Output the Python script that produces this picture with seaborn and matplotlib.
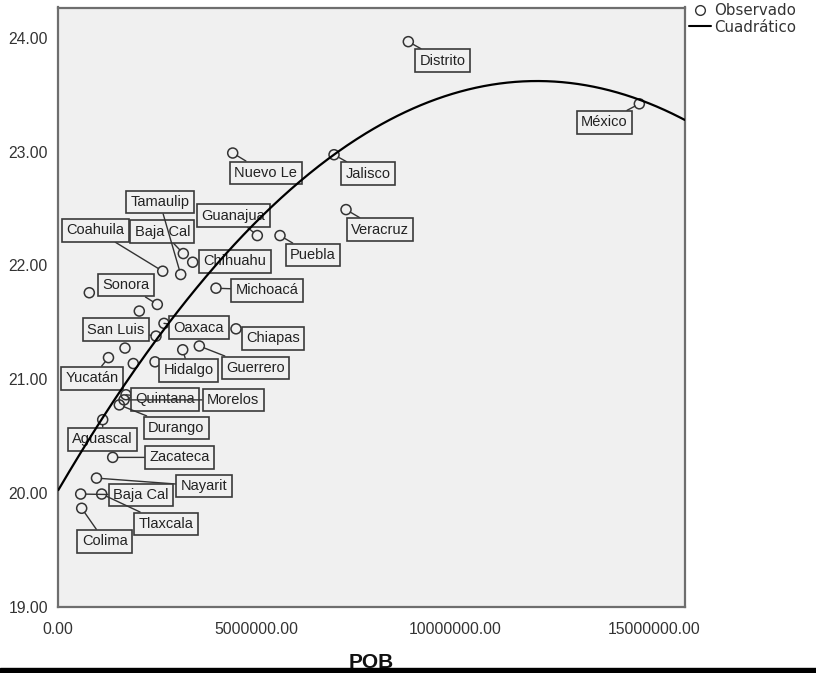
import numpy as np
import pandas as pd
import matplotlib
matplotlib.use("Agg")
import matplotlib.pyplot as plt
import seaborn as sns
from matplotlib.lines import Line2D
from matplotlib.patches import Rectangle
from matplotlib.ticker import FuncFormatter

# Observed values per state (labels truncated to 8 characters, blank = unlabelled)
estados = [
    "Distrito", "México", "Nuevo Le", "Jalisco", "Veracruz", "Guanajua", "Puebla",
    "Baja Cal", "Chihuahu", "Coahuila", "Tamaulip", "Michoacá", "", "Sonora", "",
    "Oaxaca", "Chiapas", "San Luis", "", "Guerrero", "Hidalgo", "", "",
    "Yucatán", "Quintana", "Morelos", "Durango", "Aguascal", "Zacateca",
    "Nayarit", "Baja Cal ", "Tlaxcala", "Colima",
]
pob = [
    8816000, 14635000, 4393000, 6945000, 7247000, 5013000, 5584000,
    3149000, 3385000, 2630000, 3083000, 3972000, 781000, 2494000, 2040000,
    2662000, 4476000, 2461000, 1680000, 3552000, 3134000, 2436000, 1889000,
    1264000, 1705000, 1655000, 1537000, 1118000, 1370000,
    962000, 564000, 1093000, 589000,
]
valor = [
    23.965, 23.419, 22.987, 22.972, 22.490, 22.262, 22.262,
    22.104, 22.028, 21.949, 21.920, 21.800, 21.760, 21.657, 21.599,
    21.491, 21.443, 21.379, 21.274, 21.292, 21.259, 21.153, 21.138,
    21.190, 20.864, 20.819, 20.775, 20.645, 20.314,
    20.132, 19.992, 19.992, 19.867,
]
xticks = [0, 5000000, 10000000, 15000000]
yticks = [19, 20, 21, 22, 23, 24]

# label box offsets from each point, in pixels (right, down)
offsets = {
    "Distrito": (34, 19), "México": (-35, 18.5), "Nuevo Le": (33, 20),
    "Jalisco": (34, 19), "Veracruz": (34, 20), "Guanajua": (-24, -20),
    "Puebla": (33, 19.5), "Baja Cal": (-21, -22), "Chihuahu": (42, -1),
    "Coahuila": (-67, -41), "Tamaulip": (-21, -72.5), "Michoacá": (51, 2),
    "Sonora": (-31, -19.5), "Oaxaca": (35, 4.5), "Chiapas": (37, 9.5),
    "San Luis": (-40, -6.5), "Guerrero": (56, 22), "Hidalgo": (6, 20.5),
    "Yucatán": (-16.5, 20.5), "Quintana": (39, 4.5), "Morelos": (109, 0),
    "Durango": (57, 23), "Aguascal": (0, 19.5), "Zacateca": (67, 0),
    "Nayarit": (107.5, 8), "Baja Cal ": (60, 1), "Tlaxcala": (64, 30),
    "Colima": (23, 33),
}

sns.set_theme(style="white")
plt.rcParams["font.family"] = ["Liberation Sans", "DejaVu Sans"]

W, H = 816, 673
fig = plt.figure(figsize=(W / 100, H / 100), dpi=100)
ax = fig.add_axes([58.3 / W, 1 - 607 / H, (684.8 - 58.3) / W, (607 - 7.5) / H])
bg = "#f0f0f0"
ax.set_facecolor(bg)

df = pd.DataFrame({"POB": pob, "valor": valor, "estado": estados})

xmax = 15780000
ax.set_xlim(0, xmax)
ax.set_ylim(19, 24.265)

# quadratic fit
coef = np.polyfit(df["POB"], df["valor"], 2)
xs = np.linspace(0, xmax, 400)
curve = pd.DataFrame({"POB": xs, "valor": np.polyval(coef, xs)})
sns.lineplot(data=curve, x="POB", y="valor", color="black", lw=1.6, ax=ax, zorder=5)

sns.scatterplot(data=df, x="POB", y="valor", marker="o", s=52, facecolors="none",
                edgecolor="#333333", linewidth=1.1, ax=ax, zorder=3)

for name, xv, yv in zip(estados, pob, valor):
    if not name.strip():
        continue
    dx, dy = offsets[name]
    ax.annotate(name.strip(), xy=(xv, yv), xytext=(dx, -dy), textcoords="offset pixels",
                ha="center", va="center", fontsize=10.5, color="#222222",
                bbox=dict(boxstyle="square,pad=0.3", fc=bg, ec="#3a3a3a", lw=1.2),
                arrowprops=dict(arrowstyle="-", color="#333333", lw=1.0,
                                shrinkA=0, shrinkB=3.5),
                zorder=4)

ax.set_xticks(xticks)
ax.set_yticks(yticks)
ax.xaxis.set_major_formatter(FuncFormatter(lambda v, p: f"{v:.2f}"))
ax.yaxis.set_major_formatter(FuncFormatter(lambda v, p: f"{v:.2f}"))
ax.tick_params(axis="both", direction="out", length=7, width=1.2, colors="#333333",
               labelsize=11.3)
ax.tick_params(axis="x", pad=4)
ax.tick_params(axis="y", pad=0.5)
ax.set_xlabel("")
ax.set_ylabel("")
for sp in ax.spines.values():
    sp.set_color("#6e6e6e")
    sp.set_linewidth(1.6)

handles = [
    Line2D([], [], marker="o", ls="none", mfc="none", mec="#333333", mew=1.0, ms=7),
    Line2D([], [], color="black", lw=1.5),
]
fig.legend(handles=handles, labels=["Observado", "Cuadrático"], loc="upper left",
           bbox_to_anchor=(689 / W, 1 - 3 / H), frameon=False,
           labelcolor="#333333", handlelength=1.45, handletextpad=0.25,
           labelspacing=0.1, borderpad=0, borderaxespad=0,
           prop={"family": "DejaVu Sans", "size": 10.8})

fig.text(371 / W, 1 - 662 / H, "POB", ha="center", va="center",
         fontsize=15, fontweight="bold", color="#111111")
fig.add_artist(Rectangle((0, 0), 1, 5 / H, transform=fig.transFigure,
                         color="black", zorder=10))

fig.savefig("out.png", dpi=100)
